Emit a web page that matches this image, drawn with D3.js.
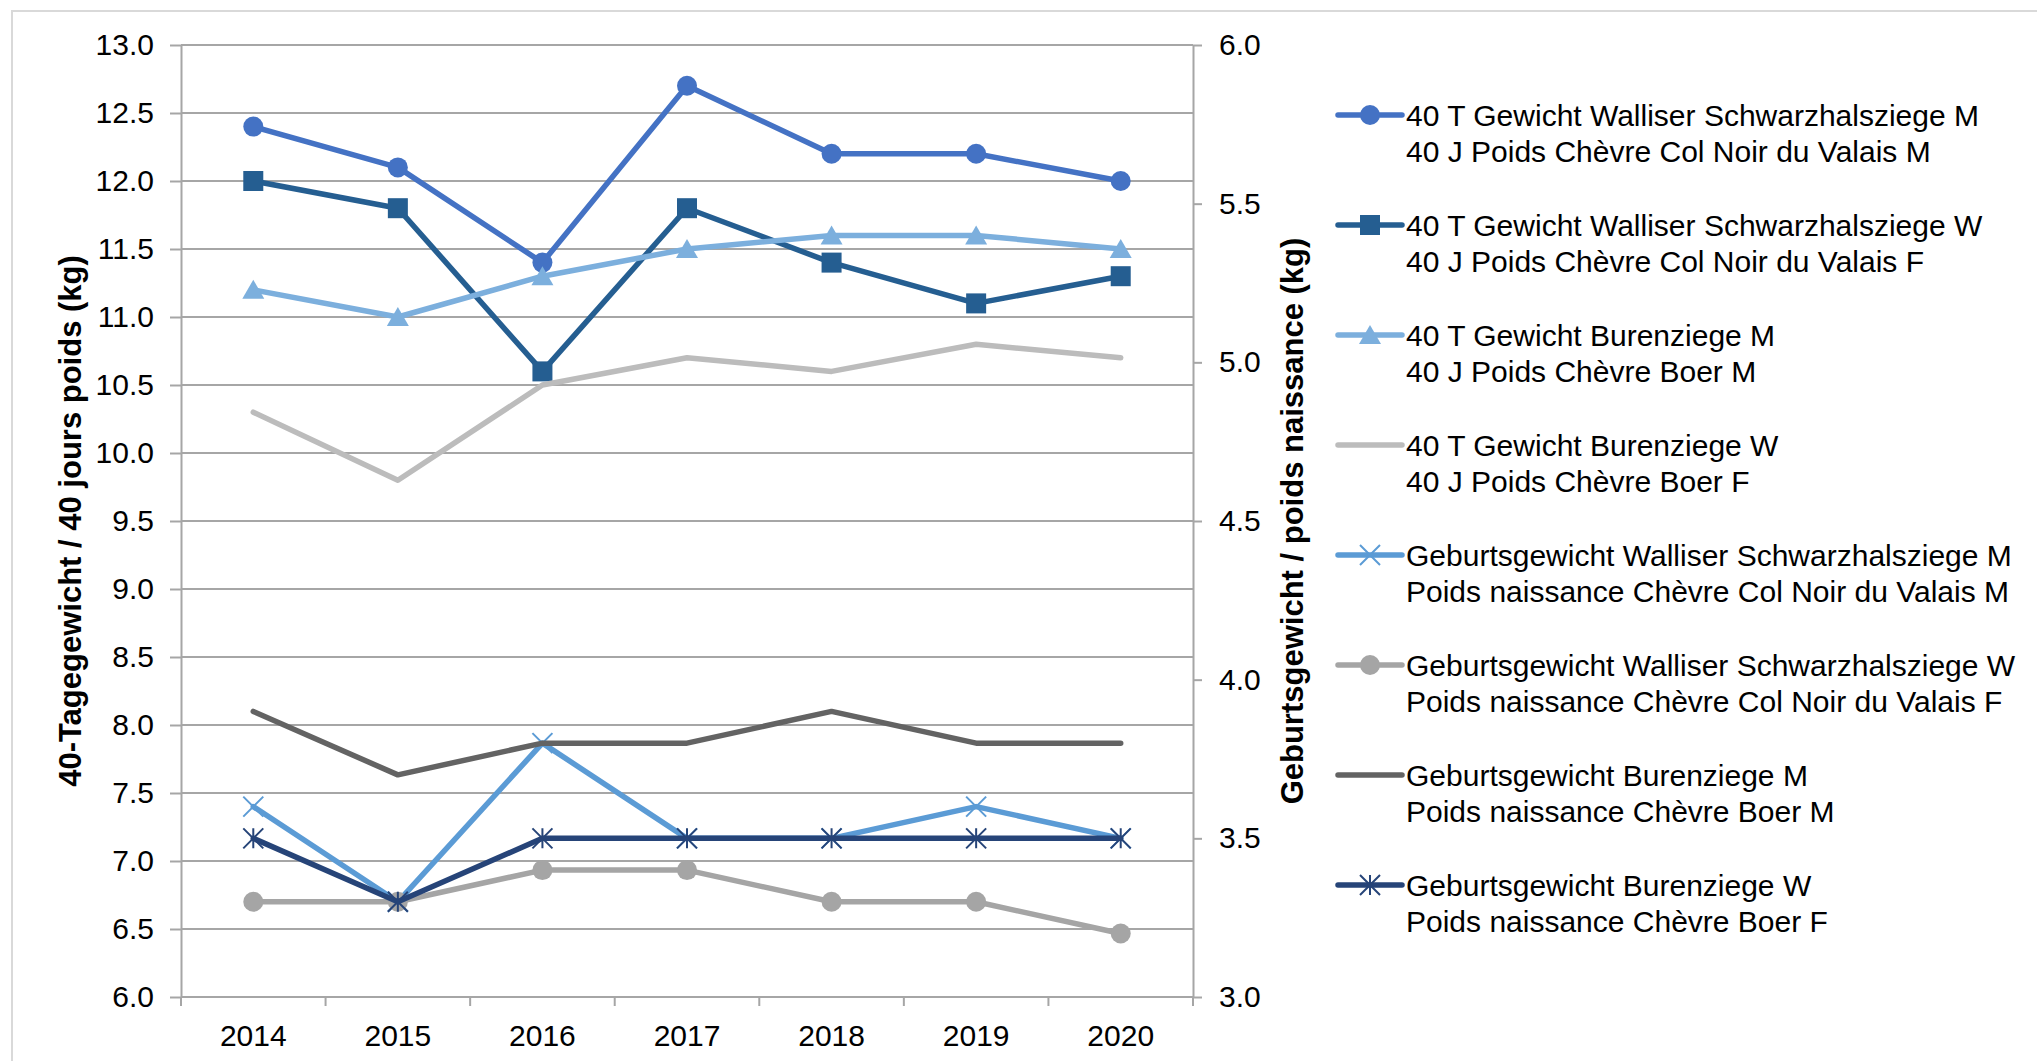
<!DOCTYPE html>
<html>
<head>
<meta charset="utf-8">
<script src="https://cdn.jsdelivr.net/npm/d3@7"></script>
<style>
  html, body { margin: 0; padding: 0; background: #ffffff; }
  svg { display: block; font-family: "Liberation Sans", Arial, sans-serif; }
</style>
</head>
<body>
<div id="chart"></div>
<script>
const years = ["2014", "2015", "2016", "2017", "2018", "2019", "2020"];

// 40-day weights, left axis (kg)
const wshM40 = [12.4, 12.1, 11.4, 12.7, 12.2, 12.2, 12.0];
const wshW40 = [12.0, 11.8, 10.6, 11.8, 11.4, 11.1, 11.3];
const boerM40 = [11.2, 11.0, 11.3, 11.5, 11.6, 11.6, 11.5];
const boerW40 = [10.3, 9.8, 10.5, 10.7, 10.6, 10.8, 10.7];

// birth weights, right axis (kg)
const wshMBirth = [3.6, 3.3, 3.8, 3.5, 3.5, 3.6, 3.5];
const wshWBirth = [3.3, 3.3, 3.4, 3.4, 3.3, 3.3, 3.2];
const boerMBirth = [3.9, 3.7, 3.8, 3.8, 3.9, 3.8, 3.8];
const boerWBirth = [3.5, 3.3, 3.5, 3.5, 3.5, 3.5, 3.5];

const leftTicks = [6.0, 6.5, 7.0, 7.5, 8.0, 8.5, 9.0, 9.5, 10.0, 10.5, 11.0, 11.5, 12.0, 12.5, 13.0];
const rightTicks = [3.0, 3.5, 4.0, 4.5, 5.0, 5.5, 6.0];

const leftTitle = "40-Tagegewicht / 40 jours poids (kg)";
const rightTitle = "Geburtsgewicht / poids naissance (kg)";

const legendTop = [
  "40 T Gewicht Walliser Schwarzhalsziege M",
  "40 T Gewicht Walliser Schwarzhalsziege W",
  "40 T Gewicht Burenziege M",
  "40 T Gewicht Burenziege W",
  "Geburtsgewicht Walliser Schwarzhalsziege M",
  "Geburtsgewicht Walliser Schwarzhalsziege W",
  "Geburtsgewicht Burenziege M",
  "Geburtsgewicht Burenziege W"
];
const legendBottom = [
  "40 J Poids Chèvre Col Noir du Valais M",
  "40 J Poids Chèvre Col Noir du Valais F",
  "40 J Poids Chèvre Boer M",
  "40 J Poids Chèvre Boer F",
  "Poids naissance Chèvre Col Noir du Valais M",
  "Poids naissance Chèvre Col Noir du Valais F",
  "Poids naissance Chèvre Boer M",
  "Poids naissance Chèvre Boer F"
];

const series = [
  { values: wshM40, axis: "left", color: "#4472c4", marker: "circle" },
  { values: wshW40, axis: "left", color: "#255e91", marker: "square" },
  { values: boerM40, axis: "left", color: "#7cafdd", marker: "triangle" },
  { values: boerW40, axis: "left", color: "#bcbcbc", marker: "none" },
  { values: wshMBirth, axis: "right", color: "#5b9bd5", marker: "x" },
  { values: wshWBirth, axis: "right", color: "#a5a5a5", marker: "circle" },
  { values: boerMBirth, axis: "right", color: "#636363", marker: "none" },
  { values: boerWBirth, axis: "right", color: "#264478", marker: "star" }
];

const W = 2037, H = 1061;
const plot = { left: 181, right: 1193, top: 45, bottom: 997 };
const gridColor = "#a6a6a6";
const fontSize = 30;
const lineWidth = 5.5;

const svg = d3.select("#chart").append("svg")
  .attr("width", W)
  .attr("height", H);

// outer chart border (only top and left visible in the crop)
svg.append("rect")
  .attr("x", 12).attr("y", 11)
  .attr("width", W + 20).attr("height", H + 20)
  .attr("fill", "none")
  .attr("stroke", "#d9d9d9")
  .attr("stroke-width", 2);

const x = d3.scaleBand().domain(years).range([plot.left, plot.right]);
const cx = d => x(d) + x.bandwidth() / 2;
const yL = d3.scaleLinear().domain([6, 13]).range([plot.bottom, plot.top]);
const yR = d3.scaleLinear().domain([3, 6]).range([plot.bottom, plot.top]);

// gridlines
svg.append("g")
  .selectAll("line")
  .data(leftTicks)
  .enter()
  .append("line")
  .attr("x1", plot.left).attr("x2", plot.right)
  .attr("y1", d => yL(d)).attr("y2", d => yL(d))
  .attr("stroke", gridColor)
  .attr("stroke-width", 2);

const styleAxis = g => {
  g.select(".domain").attr("stroke", gridColor).attr("stroke-width", 2);
  g.selectAll(".tick line").attr("stroke", gridColor).attr("stroke-width", 2);
  g.selectAll("text").attr("fill", "#000").attr("font-size", fontSize)
    .attr("font-family", "'Liberation Sans', Arial, sans-serif");
};

svg.append("g")
  .attr("transform", `translate(${plot.left},0)`)
  .call(d3.axisLeft(yL).tickValues(leftTicks).tickFormat(d3.format(".1f")).tickSize(11).tickPadding(16).tickSizeOuter(0))
  .call(styleAxis);

svg.append("g")
  .attr("transform", `translate(${plot.right},0)`)
  .call(d3.axisRight(yR).tickValues(rightTicks).tickFormat(d3.format(".1f")).tickSize(9).tickPadding(17).tickSizeOuter(0))
  .call(styleAxis);

// x axis: labels centred, tick marks on category boundaries
const xAxis = svg.append("g")
  .attr("transform", `translate(0,${plot.bottom})`)
  .call(d3.axisBottom(x).tickSize(0).tickPadding(28))
  .call(styleAxis);
xAxis.select(".domain").remove();

svg.append("line")
  .attr("x1", plot.left).attr("x2", plot.right)
  .attr("y1", plot.bottom).attr("y2", plot.bottom)
  .attr("stroke", gridColor).attr("stroke-width", 2);

const bounds = years.map(d => x(d)).concat([x(years[years.length - 1]) + x.bandwidth()]);
svg.append("g")
  .selectAll("line")
  .data(bounds)
  .enter()
  .append("line")
  .attr("x1", d => d).attr("x2", d => d)
  .attr("y1", plot.bottom).attr("y2", plot.bottom + 9)
  .attr("stroke", gridColor)
  .attr("stroke-width", 2);

// axis titles
svg.append("text")
  .attr("transform", `translate(70,${(plot.top + plot.bottom) / 2}) rotate(-90)`)
  .attr("text-anchor", "middle")
  .attr("dy", "0.35em")
  .attr("font-size", 31)
  .attr("font-weight", "bold")
  .text(leftTitle);

svg.append("text")
  .attr("transform", `translate(1292,${(plot.top + plot.bottom) / 2}) rotate(-90)`)
  .attr("text-anchor", "middle")
  .attr("dy", "0.35em")
  .attr("font-size", 31)
  .attr("font-weight", "bold")
  .text(rightTitle);

// marker drawing
function drawMarker(g, type, color) {
  const r = 10;
  if (type === "circle") {
    g.append("circle").attr("r", r).attr("fill", color);
  } else if (type === "square") {
    g.append("rect").attr("x", -r).attr("y", -r).attr("width", 2 * r).attr("height", 2 * r).attr("fill", color);
  } else if (type === "triangle") {
    g.append("path").attr("d", "M0,-10L11,9L-11,9Z").attr("fill", color);
  } else if (type === "x") {
    g.append("path").attr("d", `M${-r},${-r}L${r},${r}M${-r},${r}L${r},${-r}`)
      .attr("stroke", color).attr("stroke-width", 2).attr("fill", "none");
  } else if (type === "star") {
    g.append("path").attr("d", `M${-r},${-r}L${r},${r}M${-r},${r}L${r},${-r}M0,${-r}L0,${r}`)
      .attr("stroke", color).attr("stroke-width", 2).attr("fill", "none");
  }
}

// lines + markers
series.forEach(s => {
  const y = s.axis === "left" ? yL : yR;
  const pts = years.map((yr, i) => [cx(yr), y(s.values[i])]);
  svg.append("path")
    .datum(pts)
    .attr("d", d3.line())
    .attr("fill", "none")
    .attr("stroke", s.color)
    .attr("stroke-width", lineWidth)
    .attr("stroke-linejoin", "round")
    .attr("stroke-linecap", "round");
  pts.forEach(p => {
    const g = svg.append("g").attr("transform", `translate(${p[0]},${p[1]})`);
    drawMarker(g, s.marker, s.color);
  });
});

// legend
const legend = svg.append("g");
const legX = 1338, legLen = 64, textX = 1406, legY0 = 115, legStep = 110, lineGap = 36;
series.forEach((s, i) => {
  const yy = legY0 + i * legStep;
  const g = legend.append("g");
  g.append("line")
    .attr("x1", legX).attr("x2", legX + legLen)
    .attr("y1", yy).attr("y2", yy)
    .attr("stroke", s.color)
    .attr("stroke-width", lineWidth)
    .attr("stroke-linecap", "round");
  const m = g.append("g").attr("transform", `translate(${legX + legLen / 2},${yy})`);
  drawMarker(m, s.marker, s.color);
  g.append("text")
    .attr("x", textX).attr("y", yy).attr("dy", "0.35em")
    .attr("font-size", fontSize).attr("fill", "#000")
    .text(legendTop[i]);
  g.append("text")
    .attr("x", textX).attr("y", yy + lineGap).attr("dy", "0.35em")
    .attr("font-size", fontSize).attr("fill", "#000")
    .text(legendBottom[i]);
});
</script>
</body>
</html>
